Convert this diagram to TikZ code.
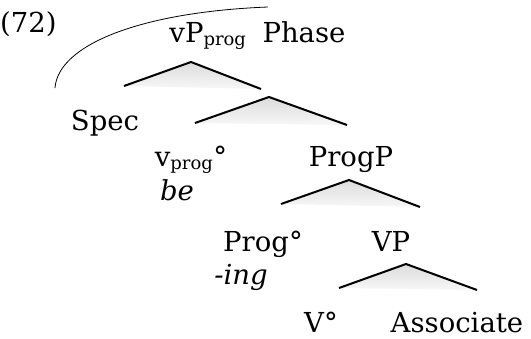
\documentclass[tikz,border=0pt]{standalone}
\usepackage{fontspec}
\setmainfont{DejaVu Serif}
\begin{document}
\begin{tikzpicture}[x=1pt,y=-1pt,
  lab/.style={inner sep=0pt,anchor=base,font=\fontsize{27.5}{32}\selectfont},
  branch/.style={line width=2pt,line join=miter},
  shadowfill/.style={top color=gray!28,bottom color=gray!6,draw=none}]
\useasboundingbox (0,0) rectangle (531,338);
% labels
\node[lab,anchor=base west] (ex) at (0,32) {(72)};
\node[lab] (vp) at (208,42) {vP\textsubscript{\fontsize{18}{20}\selectfont prog}};
\node[lab] (phase) at (304,42) {Phase};
\node[lab] (spec) at (105,130) {Spec};
\node[lab] (v) at (191,166) {v\textsubscript{\fontsize{18}{20}\selectfont prog}°};
\node[lab] (be) at (177,200) {\itshape be};
\node[lab] (progp) at (351,166) {ProgP};
\node[lab] (prog) at (263,251) {Prog°};
\node[lab] (ing) at (241,284) {\itshape -ing};
\node[lab] (vpp) at (391,251) {VP};
\node[lab] (vhead) at (321,332) {V°};
\node[lab] (assoc) at (457,332) {Associate};
% branch points
\coordinate (a1) at (191,62); \coordinate (l1) at (124,86); \coordinate (r1) at (261,89);
\coordinate (a2) at (269,97); \coordinate (l2) at (195,123); \coordinate (r2) at (347,125);
\coordinate (a3) at (349,180); \coordinate (l3) at (281,204); \coordinate (r3) at (420,207);
\coordinate (a4) at (406,264); \coordinate (l4) at (339,288); \coordinate (r4) at (477,290);
% shadows
\foreach \i in {1,2,3,4}{
  \shade[shadowfill] (a\i) -- (r\i) -- (l\i) -- cycle;
}
% branches
\foreach \i in {1,2,3,4}{
  \draw[branch] (l\i) -- (a\i) -- (r\i);
}
% phase arc
\coordinate (arcs) at (55,88); \coordinate (arce) at (268,7);
\draw[line width=0.8pt] (arcs) .. controls (58,45) and (140,12) .. (arce);
\end{tikzpicture}
\end{document}
